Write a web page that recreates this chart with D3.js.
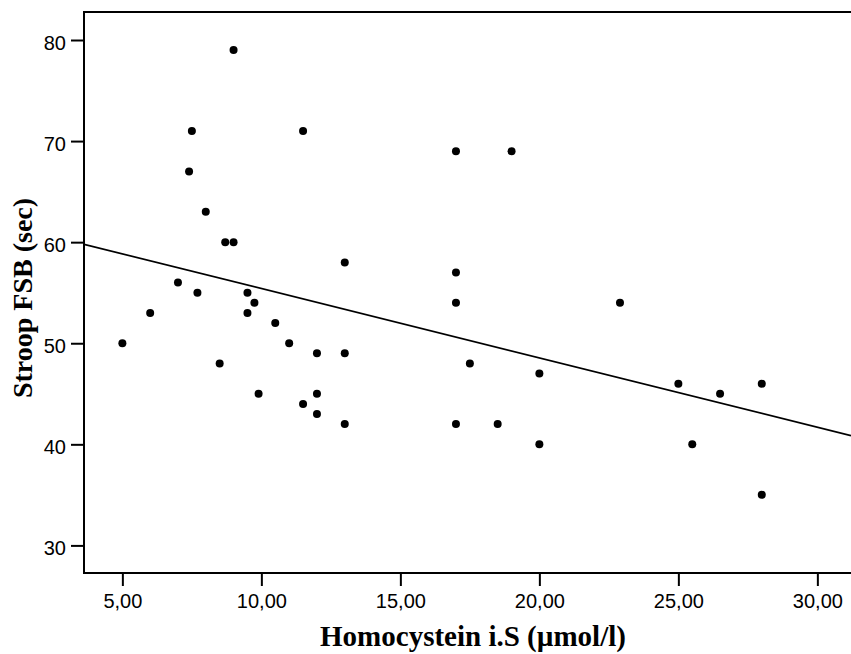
<!DOCTYPE html>
<html>
<head>
<meta charset="utf-8">
<script src="https://cdn.jsdelivr.net/npm/d3@7/dist/d3.min.js"></script>
<style>
  html, body { margin: 0; padding: 0; background: #fff; }
  svg { display: block; }
</style>
</head>
<body>
<svg id="chart" width="851" height="654"></svg>
<script>
// Data
const homocystein = [5, 6, 7, 7.5, 7.4, 7.7, 8, 8.5, 8.7, 9, 9, 9.5, 9.75, 9.5, 9.9, 10.5, 11, 11.5, 11.5, 12, 12, 12, 13, 13, 13, 17, 19, 17, 17, 17.5, 17, 18.5, 20, 20, 22.9, 25, 25.5, 26.5, 28, 28];
const stroop      = [50, 53, 56, 71, 67, 55, 63, 48, 60, 60, 79, 55, 54, 53, 45, 52, 50, 71, 44, 49, 45, 43, 58, 49, 42, 69, 69, 57, 54, 48, 42, 42, 47, 40, 54, 46, 40, 45, 46, 35];
const fitLine = { intercept: 62.27, slope: -0.686 };
const xTicks = [5, 10, 15, 20, 25, 30];
const yTicks = [30, 40, 50, 60, 70, 80];

const svg = d3.select("#chart");
const L = 84, R = 851, T = 12, B = 573;

const x = d3.scaleLinear().domain([3.62, 31.21]).range([L, R]);
const y = d3.scaleLinear().domain([27.27, 82.77]).range([B, T]);

const deLocale = d3.formatLocale({ decimal: ",", thousands: ".", grouping: [3], currency: ["", ""] });
const fmt2 = deLocale.format(".2f");

// Axes
const xAxis = svg.append("g")
  .attr("transform", `translate(0,${B})`)
  .call(d3.axisBottom(x).tickValues(xTicks).tickFormat(fmt2).tickSize(13).tickPadding(8));
const yAxis = svg.append("g")
  .attr("transform", `translate(${L},0)`)
  .call(d3.axisLeft(y).tickValues(yTicks).tickFormat(d3.format("d")).tickSize(13).tickPadding(5));

[xAxis, yAxis].forEach(g => {
  g.select(".domain").remove();
  g.selectAll(".tick line").attr("stroke", "#000").attr("stroke-width", 2);
  g.selectAll(".tick text")
    .attr("fill", "#000")
    .style("font-family", "Liberation Sans, Arial, sans-serif")
    .style("font-size", "20px");
});
yAxis.selectAll(".tick text").attr("dy", "0.47em");

// Clip for plot content
svg.append("clipPath").attr("id", "clip")
  .append("rect").attr("x", L).attr("y", T).attr("width", R - L).attr("height", B - T);

// Fit line
const xd = x.domain();
svg.append("line")
  .attr("clip-path", "url(#clip)")
  .attr("x1", x(xd[0])).attr("y1", y(fitLine.intercept + fitLine.slope * xd[0]))
  .attr("x2", x(xd[1])).attr("y2", y(fitLine.intercept + fitLine.slope * xd[1]))
  .attr("stroke", "#000").attr("stroke-width", 1.7);

// Points
svg.append("g").selectAll("circle")
  .data(homocystein.map((v, i) => [v, stroop[i]]))
  .join("circle")
  .attr("cx", d => x(d[0]))
  .attr("cy", d => y(d[1]))
  .attr("r", 4)
  .attr("fill", "#000");

// Frame (left, top, bottom; right side lies outside the view)
svg.append("path")
  .attr("d", `M${R + 5},${T} L${L},${T} L${L},${B} L${R + 5},${B}`)
  .attr("fill", "none").attr("stroke", "#000").attr("stroke-width", 2);

// Axis titles
svg.append("text")
  .attr("x", 473).attr("y", 646)
  .attr("text-anchor", "middle")
  .style("font-family", "Liberation Serif, Times New Roman, serif")
  .style("font-weight", "bold")
  .style("font-size", "29px")
  .text("Homocystein i.S (µmol/l)");

svg.append("text")
  .attr("transform", "translate(32,298) rotate(-90)")
  .attr("text-anchor", "middle")
  .style("font-family", "Liberation Serif, Times New Roman, serif")
  .style("font-weight", "bold")
  .style("font-size", "28px")
  .text("Stroop FSB (sec)");
</script>
</body>
</html>
